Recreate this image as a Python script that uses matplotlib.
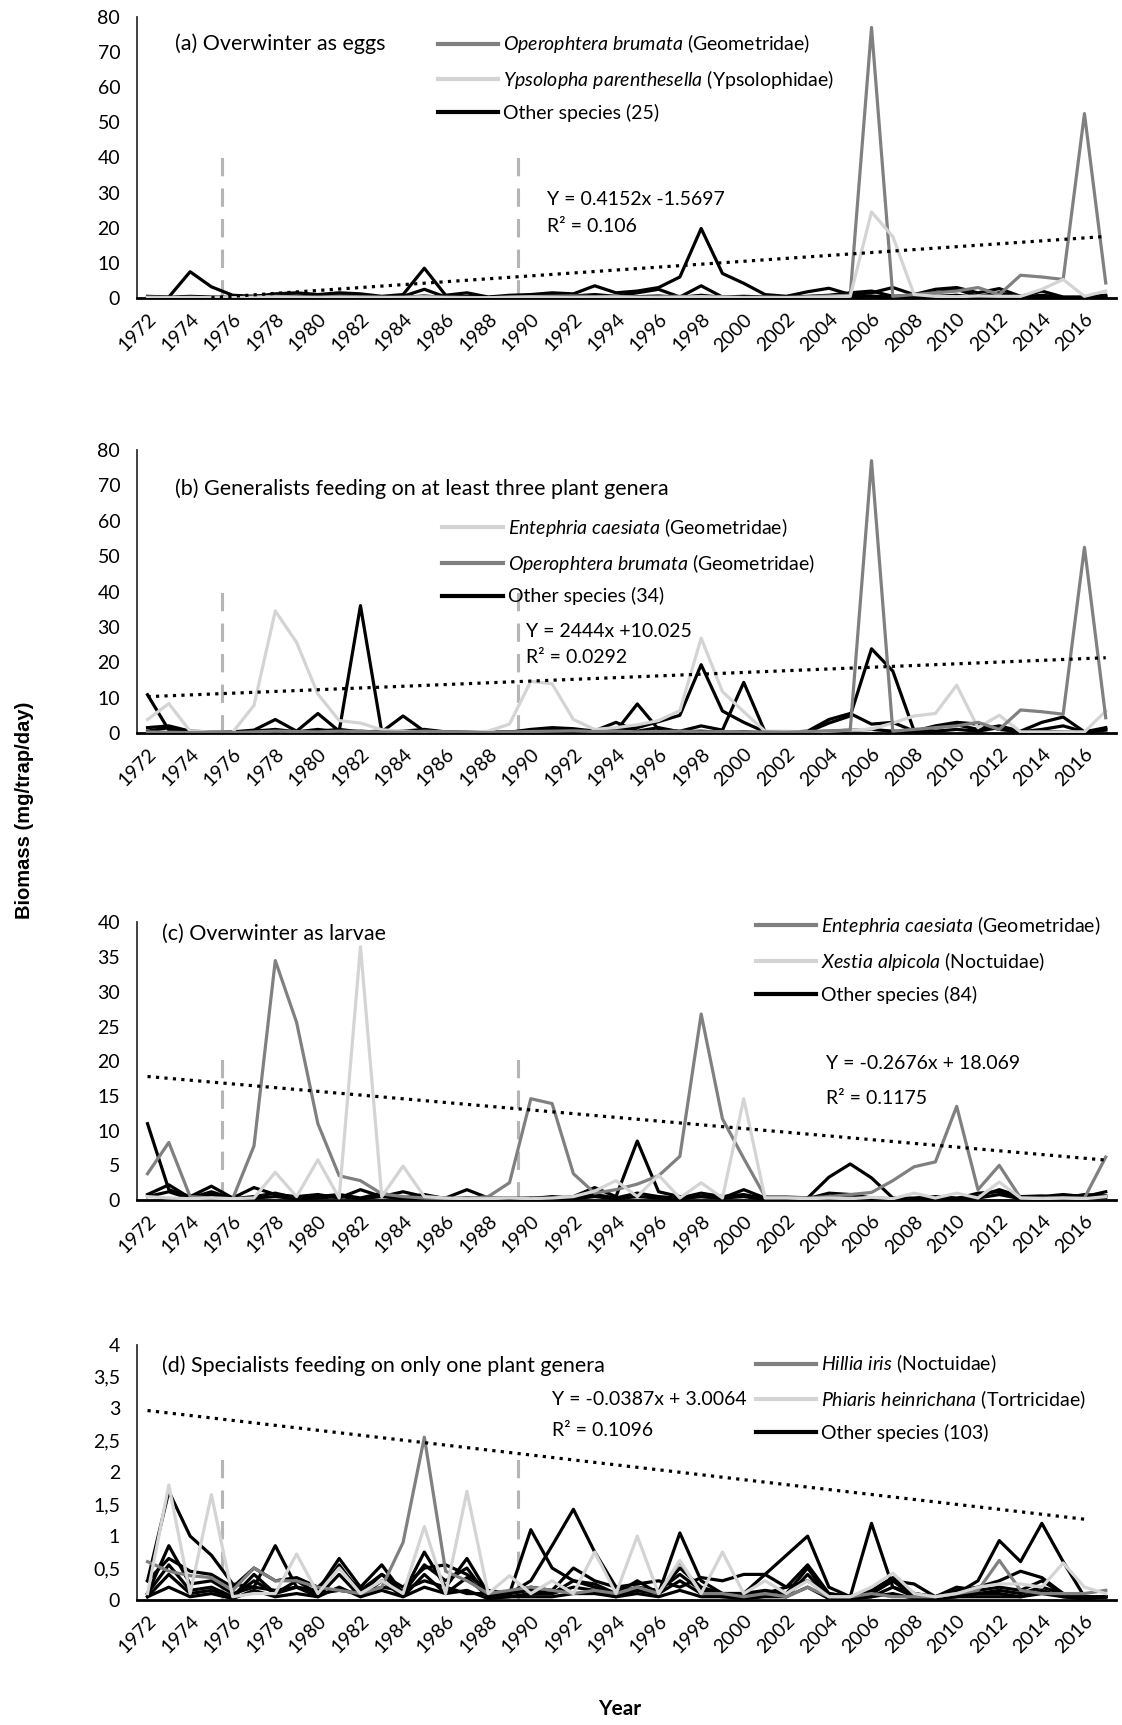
import numpy as np
import matplotlib.pyplot as plt
from matplotlib.ticker import FuncFormatter

plt.rcParams['font.family'] = ['Lato', 'DejaVu Sans']
plt.rcParams['mathtext.fontset'] = 'custom'
plt.rcParams['mathtext.rm'] = 'Lato'
plt.rcParams['mathtext.it'] = 'Lato:italic'

# ===== Data (biomass, mg/trap/day), years 1972-2017 =====
years = list(range(1972, 2018))
tick_years = years[::2]
period_breaks = [1975.5, 1989.4]

operophtera = [0.3, 0.2, 0.1, 0.2, 0.1, 0.3, 0.5, 0.4, 0.3, 0.5,
               0.4, 0.3, 0.2, 0.5, 0.3, 0.2, 0.1, 0.3, 0.4, 0.5,
               0.6, 0.4, 0.5, 0.3, 0.4, 0.5, 0.3, 0.4, 0.2, 0.3,
               0.2, 0.4, 0.6, 0.8, 77.0, 0.5, 1.0, 1.5, 2.0, 3.0,
               1.0, 6.5, 6.0, 5.3, 52.5, 4.3]
ypsolopha = [0.1, 0.1, 0.2, 0.1, 0.1, 0.2, 0.3, 0.2, 0.1, 0.2,
             0.1, 0.1, 0.2, 0.3, 0.1, 0.1, 0.1, 0.2, 0.3, 0.2,
             0.1, 0.2, 0.3, 0.2, 0.1, 0.2, 0.4, 0.2, 0.1, 0.1,
             0.1, 0.2, 0.3, 0.5, 24.5, 17.5, 1.0, 0.5, 0.4, 0.6,
             0.5, 0.5, 2.5, 5.3, 0.5, 2.0]
eggs_other = [
    [0.5, 0.3, 7.5, 3.2, 0.8, 0.5, 1.2, 1.5, 1.0, 1.5,
     1.2, 0.5, 1.0, 8.5, 0.8, 1.5, 0.3, 0.8, 1.0, 1.5,
     1.2, 3.5, 1.5, 2.0, 3.0, 6.0, 19.8, 7.0, 4.2, 1.0,
     0.5, 1.8, 2.8, 1.0, 1.5, 3.0, 1.0, 2.5, 3.0, 1.5,
     2.7, 0.5, 2.0, 0.3, 0.3, 0.8],
    [0.3, 0.2, 0.5, 0.3, 0.2, 0.5, 0.8, 0.6, 0.5, 0.8,
     0.5, 0.3, 0.5, 2.5, 0.3, 0.5, 0.2, 0.5, 0.8, 1.0,
     0.6, 1.0, 0.5, 1.5, 2.5, 0.3, 3.5, 0.3, 0.5, 0.3,
     0.2, 0.5, 0.8, 1.5, 2.0, 0.5, 0.8, 1.5, 2.5, 0.5,
     1.5, 0.3, 0.8, 0.2, 0.2, 0.5],
    [0.2, 0.1, 0.3, 0.1, 0.1, 0.2, 0.3, 0.2, 0.2, 0.3,
     0.2, 0.1, 0.2, 0.6, 0.1, 0.2, 0.1, 0.2, 0.3, 0.4,
     0.3, 0.5, 0.2, 0.4, 0.6, 0.2, 0.8, 0.2, 0.3, 0.1,
     0.1, 0.2, 0.3, 0.4, 0.6, 0.2, 0.3, 0.5, 0.8, 0.2,
     0.6, 0.1, 0.3, 0.1, 0.1, 0.3],
]

entephria = [3.8, 8.3, 0.5, 0.3, 0.2, 7.8, 34.5, 25.6, 11.0, 3.5,
             2.8, 0.9, 0.5, 0.3, 0.2, 0.2, 0.5, 2.5, 14.6, 13.9,
             3.8, 1.0, 1.5, 2.3, 3.5, 6.3, 26.8, 11.7, 6.0, 0.5,
             0.5, 0.3, 0.5, 0.8, 1.1, 2.8, 4.8, 5.5, 13.5, 1.5,
             5.0, 0.3, 0.3, 0.3, 0.3, 6.2]
generalist_other = [
    [10.8, 0.8, 0.3, 0.2, 0.3, 0.8, 3.8, 0.5, 5.5, 0.5,
     36.0, 0.3, 4.8, 0.5, 0.3, 0.2, 0.2, 0.3, 0.5, 0.8,
     0.5, 0.8, 1.0, 1.5, 3.2, 5.0, 19.3, 6.2, 3.0, 0.3,
     0.2, 0.3, 2.8, 4.8, 23.8, 17.5, 0.6, 1.5, 2.3, 1.0,
     2.0, 0.5, 3.0, 4.5, 0.3, 1.5],
    [1.5, 2.0, 0.5, 0.3, 0.2, 0.5, 1.0, 0.3, 1.0, 0.3,
     0.5, 0.2, 0.5, 1.0, 0.3, 0.2, 0.1, 0.2, 1.0, 1.5,
     1.2, 0.5, 0.5, 8.2, 1.0, 0.5, 2.0, 0.8, 14.3, 0.3,
     0.2, 0.5, 3.8, 5.5, 2.5, 3.0, 0.5, 2.0, 3.0, 2.5,
     1.0, 0.3, 1.0, 2.0, 0.3, 1.0],
    [0.5, 1.5, 0.2, 0.1, 0.1, 0.3, 0.5, 0.2, 0.5, 1.0,
     0.3, 0.5, 0.2, 0.3, 0.1, 0.1, 0.1, 0.1, 0.3, 0.5,
     0.3, 0.6, 3.0, 0.5, 1.5, 0.3, 0.5, 0.2, 0.3, 0.1,
     0.1, 0.2, 0.5, 0.8, 1.0, 0.5, 0.3, 0.5, 1.0, 0.5,
     1.5, 0.2, 0.5, 0.3, 0.2, 0.8],
]

xestia = [0.5, 0.3, 0.2, 0.3, 0.2, 0.3, 4.0, 0.5, 5.8, 0.3,
          36.5, 0.5, 4.9, 0.5, 0.3, 0.2, 0.2, 0.3, 0.2, 0.3,
          0.5, 1.3, 2.8, 0.5, 3.6, 0.3, 2.5, 0.3, 14.6, 0.3,
          0.3, 0.2, 0.3, 0.2, 0.4, 0.2, 1.0, 0.3, 1.0, 0.3,
          2.6, 0.3, 0.2, 0.3, 0.2, 0.5]
larvae_other = [
    [11.0, 1.5, 0.5, 2.0, 0.3, 1.8, 0.8, 0.5, 0.8, 0.3,
     1.5, 0.5, 1.2, 0.5, 0.3, 1.5, 0.3, 0.2, 0.3, 0.2,
     0.5, 1.8, 0.5, 8.5, 1.2, 0.5, 0.5, 0.3, 1.5, 0.3,
     0.2, 0.3, 3.3, 5.2, 3.2, 0.3, 0.2, 0.3, 0.2, 1.0,
     1.2, 0.3, 0.5, 0.8, 0.5, 1.2],
    [0.8, 2.2, 0.3, 1.2, 0.2, 0.5, 1.0, 0.3, 0.5, 0.8,
     0.3, 1.0, 0.3, 0.8, 0.2, 0.3, 0.2, 0.3, 0.2, 0.5,
     0.3, 0.8, 0.3, 1.0, 0.5, 0.3, 1.0, 0.5, 0.8, 0.2,
     0.3, 0.2, 1.0, 0.8, 0.3, 0.2, 0.3, 0.5, 0.3, 0.5,
     1.5, 0.5, 0.6, 0.3, 0.8, 0.6],
    [0.5, 1.2, 0.2, 0.8, 0.1, 0.3, 0.5, 0.2, 0.3, 0.5,
     0.2, 0.5, 0.2, 0.3, 0.1, 0.2, 0.1, 0.1, 0.2, 0.3,
     0.2, 0.5, 0.2, 0.5, 0.3, 0.2, 0.5, 0.3, 0.5, 0.1,
     0.2, 0.1, 0.5, 0.3, 0.2, 0.1, 0.2, 0.2, 0.2, 0.3,
     0.8, 0.2, 0.3, 0.2, 0.4, 0.4],
]

hillia = [0.6, 0.45, 0.38, 0.35, 0.15, 0.5, 0.3, 0.3, 0.2, 0.15,
          0.1, 0.2, 0.9, 2.55, 0.45, 0.3, 0.1, 0.15, 0.2, 0.15,
          0.1, 0.15, 0.1, 0.2, 0.1, 0.6, 0.1, 0.1, 0.05, 0.1,
          0.05, 0.2, 0.05, 0.05, 0.1, 0.05, 0.05, 0.05, 0.1, 0.15,
          0.62, 0.15, 0.1, 0.1, 0.1, 0.15]
phiaris = [0.1, 1.8, 0.1, 1.65, 0.05, 0.1, 0.1, 0.72, 0.1, 0.5,
           0.1, 0.3, 0.1, 1.15, 0.1, 1.7, 0.1, 0.38, 0.1, 0.3,
           0.1, 0.75, 0.1, 1.0, 0.1, 0.62, 0.1, 0.75, 0.1, 0.3,
           0.1, 0.3, 0.05, 0.05, 0.2, 0.42, 0.1, 0.05, 0.1, 0.2,
           0.25, 0.25, 0.2, 0.58, 0.2, 0.1]
specialist_other = [
    [0.3, 1.7, 1.0, 0.7, 0.25, 0.2, 0.15, 0.2, 0.1, 0.15,
     0.1, 0.2, 0.15, 0.3, 0.2, 0.1, 0.1, 0.1, 0.3, 0.85,
     1.42, 0.75, 0.2, 0.15, 0.1, 1.05, 0.3, 0.1, 0.1, 0.1,
     0.2, 0.3, 0.1, 0.05, 1.2, 0.2, 0.1, 0.05, 0.1, 0.3,
     0.93, 0.6, 1.2, 0.6, 0.05, 0.05],
    [0.1, 0.85, 0.25, 0.3, 0.1, 0.2, 0.85, 0.2, 0.15, 0.65,
     0.2, 0.55, 0.1, 0.75, 0.2, 0.65, 0.1, 0.1, 1.1, 0.5,
     0.3, 0.2, 0.1, 0.3, 0.1, 0.5, 0.2, 0.1, 0.1, 0.4,
     0.7, 1.0, 0.2, 0.05, 0.1, 0.3, 0.25, 0.05, 0.15, 0.2,
     0.3, 0.45, 0.35, 0.1, 0.05, 0.05],
    [0.3, 0.65, 0.45, 0.4, 0.2, 0.5, 0.3, 0.35, 0.2, 0.5,
     0.15, 0.4, 0.2, 0.5, 0.55, 0.4, 0.15, 0.1, 0.2, 0.15,
     0.5, 0.3, 0.2, 0.25, 0.3, 0.2, 0.35, 0.3, 0.4, 0.4,
     0.2, 0.55, 0.1, 0.05, 0.15, 0.35, 0.1, 0.05, 0.2, 0.15,
     0.2, 0.15, 0.3, 0.1, 0.05, 0.05],
    [0.1, 0.55, 0.15, 0.2, 0.05, 0.4, 0.1, 0.3, 0.1, 0.55,
     0.1, 0.4, 0.1, 0.55, 0.3, 0.5, 0.05, 0.1, 0.15, 0.1,
     0.3, 0.25, 0.1, 0.2, 0.15, 0.4, 0.15, 0.1, 0.1, 0.15,
     0.1, 0.5, 0.05, 0.05, 0.1, 0.3, 0.05, 0.05, 0.1, 0.1,
     0.15, 0.1, 0.2, 0.1, 0.05, 0.05],
    [0.05, 0.4, 0.1, 0.15, 0.05, 0.3, 0.1, 0.2, 0.05, 0.4,
     0.05, 0.3, 0.05, 0.4, 0.1, 0.35, 0.05, 0.05, 0.1, 0.1,
     0.2, 0.15, 0.05, 0.15, 0.1, 0.3, 0.1, 0.05, 0.05, 0.1,
     0.05, 0.4, 0.05, 0.02, 0.05, 0.2, 0.05, 0.02, 0.05, 0.1,
     0.1, 0.05, 0.15, 0.05, 0.02, 0.05],
    [0.05, 0.2, 0.05, 0.1, 0.02, 0.15, 0.05, 0.1, 0.05, 0.2,
     0.05, 0.15, 0.05, 0.2, 0.1, 0.15, 0.02, 0.05, 0.05, 0.05,
     0.1, 0.1, 0.05, 0.1, 0.05, 0.15, 0.05, 0.05, 0.02, 0.05,
     0.05, 0.2, 0.02, 0.02, 0.05, 0.1, 0.02, 0.02, 0.05, 0.05,
     0.05, 0.05, 0.1, 0.05, 0.02, 0.05],
]

# trend lines: (slope, intercept, last year)
trend_a = (0.4152, -1.5697, 2017)
trend_b = (0.2444, 10.025, 2017)
trend_c = (-0.2676, 18.069, 2017)
trend_d = (-0.0387, 3.0064, 2016)

MID = '#808080'
LIGHT = '#d4d4d4'
LW = 2.3


def panel(ax, named, others, n_other, ymax, ystep, break_top, trend,
          title, title_xy, eq, eq_xy, leg_xy, comma=False):
    for i, vals in enumerate(others):
        line, = ax.plot(years, vals, color='black', lw=LW, zorder=3)
        if i == 0:
            other_handle = line
    handles = []
    for vals, color, label in named:
        h, = ax.plot(years, vals, color=color, lw=LW, zorder=4, label=label)
        handles.append(h)
    other_handle.set_label(f'Other species ({n_other})')
    handles.append(other_handle)

    ax.vlines(period_breaks, 0, break_top, colors='#b5b5b5', lw=2.2,
              linestyles=(0, (6, 4)), zorder=2)

    slope, icpt, last = trend
    tx = np.arange(years[0], last + 1)
    ty = slope * (tx - 1971) + icpt
    keep = ty >= 0
    ax.plot(tx[keep], ty[keep], color='black', lw=2.3, ls=':', zorder=5)

    ax.set_xlim(years[0] - 0.5, years[-1] + 0.5)
    ax.set_ylim(0, ymax)
    ax.set_yticks(np.arange(0, ymax + ystep / 2, ystep))
    ax.set_xticks(tick_years)
    ax.set_xticklabels([str(y) for y in tick_years], rotation=45,
                       ha='right', va='top', rotation_mode='anchor')
    if comma:
        ax.yaxis.set_major_formatter(
            FuncFormatter(lambda v, p: f'{v:g}'.replace('.', ',')))
    ax.tick_params(axis='y', length=0, pad=12, labelsize=14)
    ax.tick_params(axis='x', length=0, pad=9, labelsize=14)
    for s in ['top', 'right']:
        ax.spines[s].set_visible(False)
    ax.spines['bottom'].set_linewidth(2.0)
    ax.spines['left'].set_linewidth(1.3)
    ax.spines['left'].set_color('#333333')

    ax.text(title_xy[0], title_xy[1], title, transform=ax.transAxes,
            fontsize=15.5, va='center', ha='left')
    ax.text(eq_xy[0], eq_xy[1], eq[0], transform=ax.transAxes,
            fontsize=14, va='center', ha='left')
    ax.text(eq_xy[0], eq_xy[2], eq[1], transform=ax.transAxes,
            fontsize=14, va='center', ha='left')
    leg = ax.legend(handles=handles, loc='upper left', bbox_to_anchor=leg_xy,
                    frameon=False, fontsize=14, handlelength=3.1,
                    handletextpad=0.25, labelspacing=0.66, borderpad=0,
                    borderaxespad=0)
    for lh in leg.get_lines():
        lh.set_linewidth(3.0)


fig = plt.figure(figsize=(11.22, 17.25), dpi=100)
ax_a = fig.add_axes([0.122, 0.8272, 0.873, 0.163])
ax_b = fig.add_axes([0.122, 0.5751, 0.873, 0.164])
ax_c = fig.add_axes([0.122, 0.3043, 0.873, 0.161])
ax_d = fig.add_axes([0.122, 0.0725, 0.873, 0.148])

panel(ax_a,
      [(operophtera, MID, r'$\it{Operophtera\ brumata}$ (Geometridae)'),
       (ypsolopha, LIGHT, r'$\it{Ypsolopha\ parenthesella}$ (Ypsolophidae)')],
      eggs_other, 25, 80, 10, 43, trend_a,
      '(a) Overwinter as eggs', (0.039, 0.904),
      ('Y = 0.4152x -1.5697', 'R² = 0.106'), (0.419, 0.352, 0.256),
      (0.307, 0.945))

panel(ax_b,
      [(entephria, LIGHT, r'$\it{Entephria\ caesiata}$ (Geometridae)'),
       (operophtera, MID, r'$\it{Operophtera\ brumata}$ (Geometridae)')],
      generalist_other, 34, 80, 10, 43, trend_b,
      '(b) Generalists feeding on at least three plant genera', (0.039, 0.862),
      ('Y = 2444x +10.025', 'R² = 0.0292'), (0.397, 0.360, 0.268),
      (0.312, 0.768))

panel(ax_c,
      [(entephria, MID, r'$\it{Entephria\ caesiata}$ (Geometridae)'),
       (xestia, LIGHT, r'$\it{Xestia\ alpicola}$ (Noctuidae)')],
      larvae_other, 84, 40, 5, 21.5, trend_c,
      '(c) Overwinter as larvae', (0.0255, 0.96),
      ('Y = -0.2676x + 18.069', 'R² = 0.1175'), (0.704, 0.493, 0.367),
      (0.632, 1.03))

panel(ax_d,
      [(hillia, MID, r'$\it{Hillia\ iris}$ (Noctuidae)'),
       (phiaris, LIGHT, r'$\it{Phiaris\ heinrichana}$ (Tortricidae)')],
      specialist_other, 103, 4, 0.5, 2.35, trend_d,
      '(d) Specialists feeding on only one plant genera', (0.0255, 0.918),
      ('Y = -0.0387x + 3.0064', 'R² = 0.1096'), (0.424, 0.784, 0.663),
      (0.632, 0.968), comma=True)

fig.text(0.022, 0.53, 'Biomass (mg/trap/day)', rotation=90, ha='center',
         va='center', fontsize=14.5, fontweight='bold', family='Liberation Sans')
fig.text(0.552, 0.0095, 'Year', ha='center', va='center', fontsize=15,
         fontweight='bold')

plt.savefig('out.png', dpi=100)
